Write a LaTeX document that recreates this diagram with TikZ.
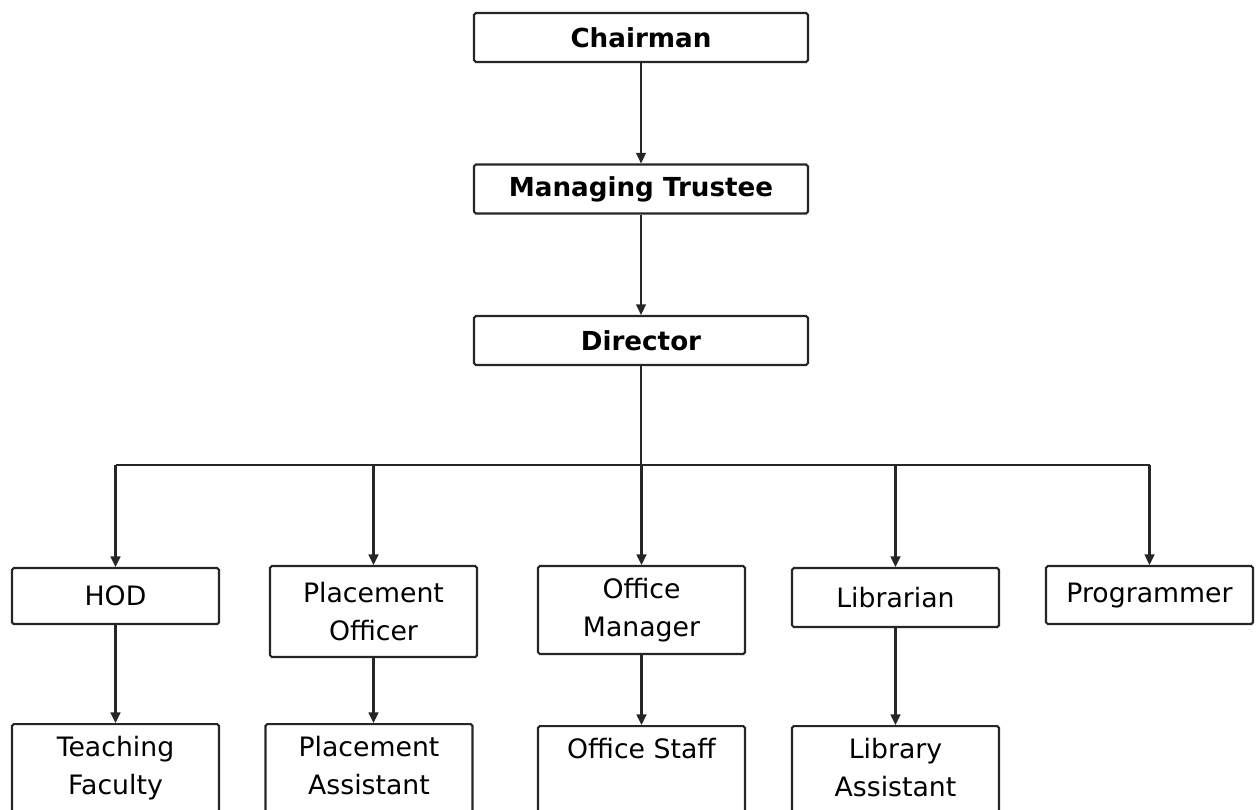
\documentclass[tikz,border=0pt]{standalone}
\usepackage{fontspec}
\setmainfont{DejaVu Sans}
\usetikzlibrary{arrows.meta}

\tikzset{
box/.style={
draw=black!85,
line width=1.2pt,
rounded corners=1pt,
font=\fontsize{15.2}{21.5}\selectfont
},
topbox/.style={
box,
align=center,
minimum width=6.68cm,
minimum height=0.98cm,
font=\bfseries\fontsize{14.9}{17}\selectfont
},
midbox/.style={
box,
align=center,
anchor=north,
minimum width=4.14cm
},
lowbox/.style={
box,
anchor=north,
minimum width=4.14cm,
inner ysep=7pt,
execute at begin node={\begin{minipage}[t][2cm][t]{3.5cm}\centering},
execute at end node={\end{minipage}}
},
wire/.style={draw=black!85, line width=1.2pt},
link/.style={wire, -{Triangle[length=6pt,width=5.5pt]}}
}

\begin{document}
\begin{tikzpicture}[x=0.02cm,y=-0.02cm]

\clip (0,0) rectangle (1258,810);

% top of the chart
\node[topbox] (ch) at (641,37.5) {Chairman};
\node[topbox] (mt) at (641,189) {Managing Trustee};
\node[topbox] (dir) at (641,340.5) {Director};

% second level
\node[midbox, minimum height=1.12cm] (hod) at (115.5,567) {HOD};
\node[midbox, minimum height=1.82cm] (po) at (373.5,565) {Placement\\Officer};
\node[midbox, minimum height=1.76cm] (om) at (641.5,565) {Office\\Manager};
\node[midbox, minimum height=1.18cm] (lib) at (895.5,567) {Librarian};
\node[midbox, minimum height=1.16cm] (prog) at (1149.5,565) {Programmer};

% third level
\node[lowbox] (tf) at (115.5,723) {Teaching\\Faculty};
\node[lowbox] (pa) at (369,723) {Placement\\Assistant};
\node[lowbox] (os) at (641.5,725) {Office Staff};
\node[lowbox] (la) at (895.5,725) {Library\\Assistant};

\coordinate (bus) at (641,465);

\draw[link] (ch) -- (mt);
\draw[link] (mt) -- (dir);
\draw[wire] (dir) -- (bus);
\draw[wire] (bus -| hod) -- (bus -| prog);

\foreach \n in {hod,po,om,lib,prog}
\draw[link] (bus -| \n) -- (\n);

\draw[link] (hod) -- (hod |- tf.north);
\draw[link] (po) -- (po |- pa.north);
\draw[link] (om) -- (om |- os.north);
\draw[link] (lib) -- (lib |- la.north);

\end{tikzpicture}
\end{document}
